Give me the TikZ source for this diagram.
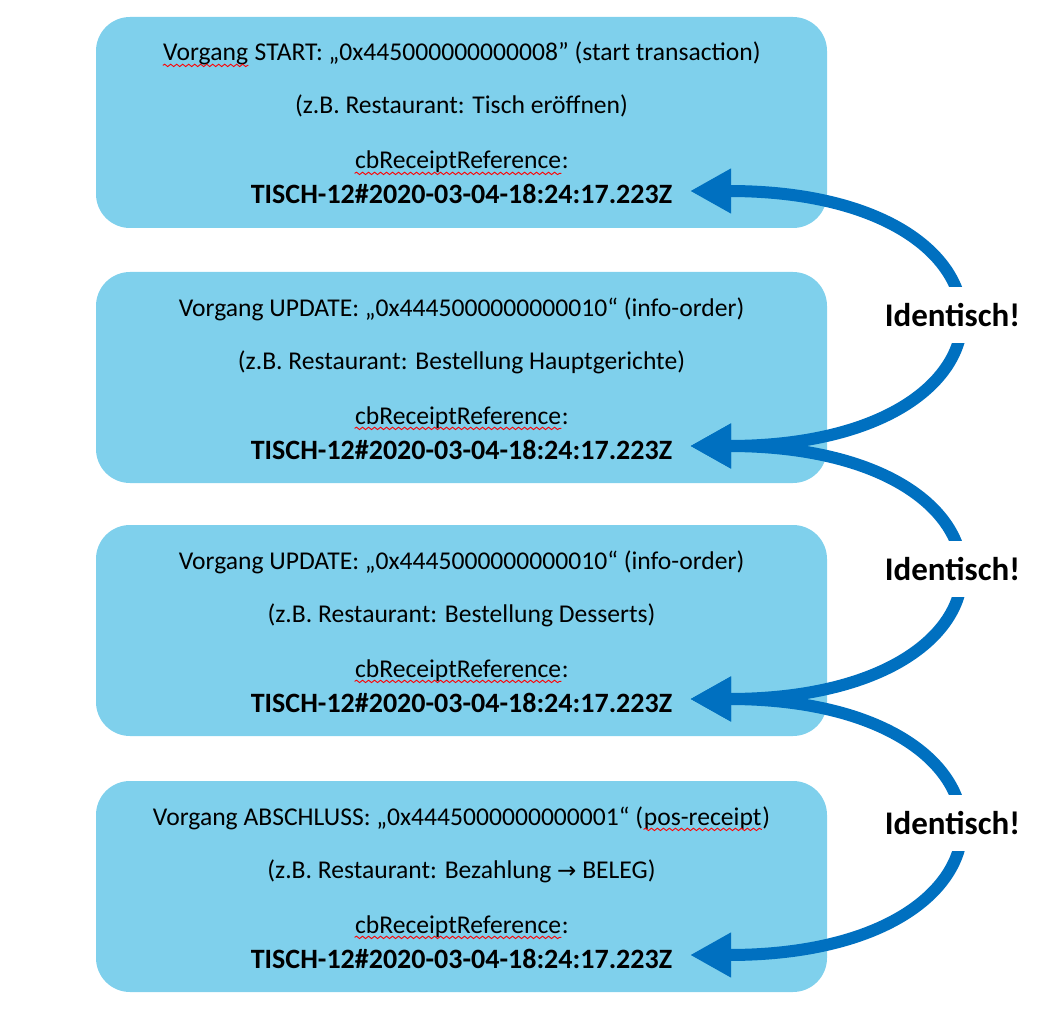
\documentclass[tikz,border=0pt]{standalone}
\usepackage{fontspec}
\setmainfont{Carlito}
\newfontfamily\symfont{DejaVu Sans}
\usetikzlibrary{arrows.meta, decorations.pathmorphing}
\definecolor{boxblue}{RGB}{127,208,236}
\definecolor{linkblue}{RGB}{0,112,192}
\newcommand\spellerr[1]{\tikz[baseline=(w.base)]{\node[inner sep=0pt, anchor=base] (w) {#1};
	\draw[red, line width=0.45pt, decorate, decoration={snake, segment length=3pt, amplitude=0.6pt}] ([yshift=-2.2pt]w.base west) -- ([yshift=-2.2pt]w.base east);}}
\tikzset{
	evbox/.style={fill=boxblue, rounded corners=17pt, minimum width=365.5pt, minimum height=105.5pt, inner sep=0pt},
	headtxt/.style={anchor=base, inner sep=0pt, font=\fontsize{12.8}{15}\selectfont},
	reftxt/.style={anchor=base, inner sep=0pt, font=\fontsize{14}{16}\selectfont\bfseries},
	link/.style={line width=6pt, draw=linkblue, {Triangle[length=20.5pt,width=21pt]}-{Triangle[length=20.5pt,width=21pt]}},
	tag/.style={fill=white, inner sep=3pt, minimum height=28pt, font=\fontsize{16.5}{18}\selectfont\bfseries}
}
\begin{document}
\begin{tikzpicture}[x=0.5pt, y=-0.5pt]
	\useasboundingbox (0,0) rectangle (1051,1011);
	\foreach \i/\top/\head/\note in {
		1/17/{\spellerr{Vorgang} START: „0x445000000000008” (start transaction)}/{(z.B. Restaurant: Tisch eröffnen)},
		2/272/{Vorgang UPDATE: „0x4445000000000010“ (info-order)}/{(z.B. Restaurant: Bestellung Hauptgerichte)},
		3/525/{Vorgang UPDATE: „0x4445000000000010“ (info-order)}/{(z.B. Restaurant: Bestellung Desserts)},
		4/781/{Vorgang ABSCHLUSS: „0x4445000000000001“ (\spellerr{pos-receipt})}/{(z.B. Restaurant: Bezahlung {\symfont\fontsize{11.5}{14}\selectfont →} BELEG)}}
	{
		\node[evbox] (box\i) at (461.5,\top+105.5) {};
		\node[headtxt] (head\i) at (461.5,\top+44) {\head};
		\node[headtxt] (note\i) at (461.5,\top+97) {\note};
		\node[headtxt] (key\i) at (461.5,\top+152) {\spellerr{cbReceiptReference}:};
		\node[reftxt] (ref\i) at (461.5,\top+187) {TISCH-12\#2020-03-04-18:24:17.223Z};
		\coordinate (tip\i) at (690,\top+174);
	}
	% gleiche Referenz von Vorgang zu Vorgang
	\foreach \a/\b in {1/2, 2/3, 3/4}
	\draw[link] (tip\a) .. controls +(350,0) and +(350,0) .. node[tag, pos=0.49]{Identisch!} (tip\b);
\end{tikzpicture}
\end{document}
